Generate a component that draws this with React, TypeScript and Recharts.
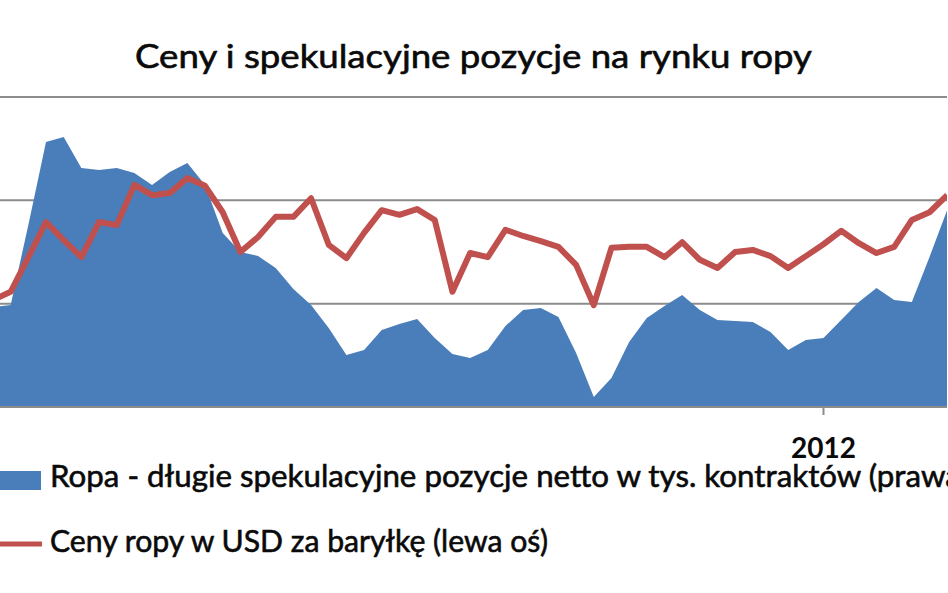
import { ComposedChart, Area, Line, XAxis, YAxis, CartesianGrid } from 'recharts';

// weekly readings (Tuesdays), Feb 2011 - Feb 2012
const weeks = [
  '2011-02-08', '2011-02-15', '2011-02-22', '2011-03-01', '2011-03-08', '2011-03-15', '2011-03-22',
  '2011-03-29', '2011-04-05', '2011-04-12', '2011-04-19', '2011-04-26', '2011-05-03', '2011-05-10',
  '2011-05-17', '2011-05-24', '2011-05-31', '2011-06-07', '2011-06-14', '2011-06-21', '2011-06-28',
  '2011-07-05', '2011-07-12', '2011-07-19', '2011-07-26', '2011-08-02', '2011-08-09', '2011-08-16',
  '2011-08-23', '2011-08-30', '2011-09-06', '2011-09-13', '2011-09-20', '2011-09-27', '2011-10-04',
  '2011-10-11', '2011-10-18', '2011-10-25', '2011-11-01', '2011-11-08', '2011-11-15', '2011-11-22',
  '2011-11-29', '2011-12-06', '2011-12-13', '2011-12-20', '2011-12-27', '2012-01-03', '2012-01-10',
  '2012-01-17', '2012-01-24', '2012-01-31', '2012-02-07', '2012-02-14', '2012-02-21',
];

// net long speculative positions, thousands of contracts (right axis)
const netLong = [
  148.4, 149.4, 188.1, 228.2, 230.6, 215.6, 214.7, 215.6, 213.2, 207.4, 213.7,
  218.1, 207.4, 184.2, 175.0, 173.1, 167.3, 157.1, 149.4, 138.2, 125.2, 127.6,
  137.3, 140.2, 142.6, 133.4, 125.6, 123.7, 127.6, 139.2, 146.9, 147.9, 143.5,
  126.1, 104.8, 114.0, 131.5, 143.1, 148.9, 154.2, 146.9, 142.1, 141.6, 141.1,
  136.3, 127.6, 132.4, 133.4, 142.1, 150.8, 157.6, 151.8, 150.8, 172.6, 195.3,
];

// oil price, USD per barrel (left axis)
const oilPrice = [
  100.7, 102.3, 109.0, 115.8, 112.3, 109.0, 115.8, 115.2, 123.0, 121.0, 121.4,
  124.3, 122.8, 117.7, 110.0, 112.9, 116.8, 116.8, 120.4, 111.4, 108.8, 113.7,
  118.1, 117.2, 118.3, 116.2, 102.3, 109.8, 109.0, 114.3, 113.1, 112.1, 111.0,
  107.5, 99.7, 110.8, 111.0, 111.0, 109.0, 111.9, 108.5, 106.9, 110.0, 110.4,
  109.2, 106.9, 109.2, 111.5, 114.1, 111.7, 109.8, 111.0, 116.2, 117.7, 121.0,
];

const priceTicks = [80, 100, 120, 140];
const positionTicks = [100, 150, 200, 250];
const yearTicks = ['2012-01-03'];

const TITLE = 'Ceny i spekulacyjne pozycje na rynku ropy';
const POSITIONS_LABEL = 'Ropa - długie spekulacyjne pozycje netto w tys. kontraktów (prawa oś)';
const PRICE_LABEL = 'Ceny ropy w USD za baryłkę (lewa oś)';

const BLUE = '#4a7ebb';
const RED = '#c0504d';
const GRID = '#8c8c8c';
const INK = '#0a0a0a';
const FONT = 'Lato, "Open Sans", sans-serif';

const data = weeks.map((week, i) => ({ week, netLong: netLong[i], oilPrice: oilPrice[i] }));

function YearTick({ x, y, payload }: any) {
  return (
    <text x={x} y={y} dy={41} textAnchor="middle" fontFamily={FONT} fontWeight={700} fontSize={28} fill={INK}>
      {String(payload.value).slice(0, 4)}
    </text>
  );
}

export default function App() {
  const label = { fontFamily: FONT, fill: INK, stroke: INK, strokeWidth: 0.6, lengthAdjust: 'spacingAndGlyphs' as const };
  return (
    <div style={{ position: 'absolute', left: 0, top: 0, width: 948, height: 593, overflow: 'hidden', background: '#fff' }}>
      <div style={{ position: 'absolute', left: -7.3, top: 92 }}>
        <ComposedChart width={954.2} height={375} data={data} margin={{ top: 5, right: 0, bottom: 0, left: 0 }}>
          <CartesianGrid yAxisId="price" vertical={false} stroke={GRID} strokeWidth={2} />
          <XAxis
            dataKey="week"
            ticks={yearTicks}
            interval={0}
            tick={<YearTick />}
            tickSize={8}
            tickMargin={2}
            tickLine={{ stroke: GRID, strokeWidth: 2 }}
            axisLine={{ stroke: GRID, strokeWidth: 2 }}
            height={60}
          />
          <YAxis yAxisId="price" hide domain={[80, 140]} ticks={priceTicks} />
          <YAxis yAxisId="positions" orientation="right" hide domain={[100, 250]} ticks={positionTicks} />
          <Area
            yAxisId="positions"
            type="linear"
            dataKey="netLong"
            fill={BLUE}
            fillOpacity={1}
            stroke="none"
            isAnimationActive={false}
          />
          <Line
            yAxisId="price"
            type="linear"
            dataKey="oilPrice"
            stroke={RED}
            strokeWidth={6}
            strokeLinejoin="round"
            dot={false}
            isAnimationActive={false}
          />
        </ComposedChart>
      </div>
      <svg width={948} height={593} style={{ position: 'absolute', left: 0, top: 0, pointerEvents: 'none' }}>
        <text x={473.5} y={68} textAnchor="middle" fontSize={32} textLength={677} {...label}>
          {TITLE}
        </text>
        <rect x={0} y={471} width={41} height={19} fill={BLUE} />
        <text x={50} y={487} fontSize={31} textLength={958} {...label}>
          {POSITIONS_LABEL}
        </text>
        <line x1={0} x2={42} y1={544} y2={544} stroke={RED} strokeWidth={5} />
        <text x={50} y={552} fontSize={31} textLength={498} {...label}>
          {PRICE_LABEL}
        </text>
      </svg>
    </div>
  );
}
